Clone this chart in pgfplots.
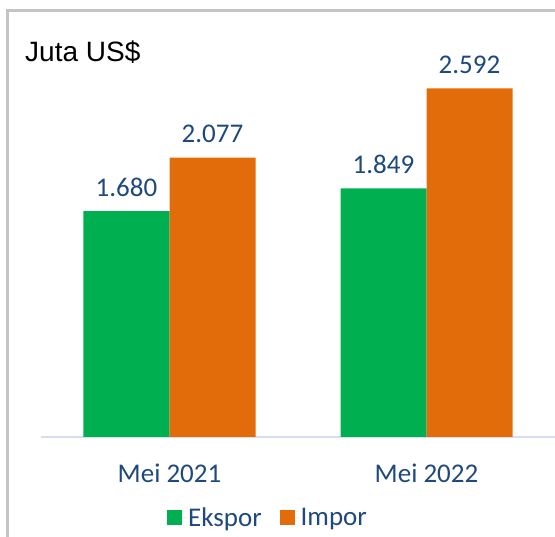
\documentclass[border=0pt]{standalone}
\usepackage{pgfplots}
\pgfplotsset{compat=1.18}
\usepackage{fontspec}
\setmainfont{Carlito}
\newfontfamily\arialfont{Liberation Sans}

\definecolor{ekspor}{HTML}{00B050}
\definecolor{impor}{HTML}{E36C0A}
\definecolor{txtblue}{HTML}{1F497D}
\definecolor{axisgray}{HTML}{D5DEEA}
\definecolor{framegray}{HTML}{C4C4C4}

\begin{document}
\begin{tikzpicture}
\useasboundingbox (0,0) rectangle (555pt,537pt);
% chart frame
\draw[framegray, line width=3pt] (7.5pt,0) -- (7.5pt,526pt) -- (555pt,526pt);
\node[anchor=base west, inner sep=0pt, font=\arialfont\fontsize{28}{32}\selectfont]
  at (25pt,475pt) {Juta US\$};

\begin{axis}[
    at={(41pt,100pt)}, anchor=south west,
    scale only axis,
    width=514pt, height=403.5pt,
    ybar=0pt, bar width=86pt,
    xmin=-0.5, xmax=1.5,
    ymin=0, ymax=3000,
    hide y axis,
    axis x line*=bottom,
    x axis line style={-, draw=axisgray, line width=1.5pt},
    xtick=data,
    xticklabels={Mei 2021, Mei 2022},
    major tick length=0pt,
    xticklabel style={anchor=base, yshift=-46pt, text=txtblue,
        font=\fontsize{27}{32}\selectfont},
    nodes near coords,
    every node near coord/.append style={text=txtblue, inner sep=0pt,
        anchor=base, yshift=15pt, font=\fontsize{27}{32}\selectfont},
    /pgf/number format/.cd, fixed, precision=0, 1000 sep={.}, assume math mode=true,
    /pgfplots/.cd,
    legend columns=2,
    legend style={draw=none, fill=none,
        at={(axis description cs:0.4416,-0.2007)}, anchor=center,
        font=\fontsize{27}{32}\selectfont, text=txtblue,
        /tikz/every even column/.append style={column sep=16pt}},
    legend image code/.code={\fill[#1] (0pt,-7.5pt) rectangle (15pt,7.5pt);
        \path (0pt,0pt) -- (19pt,0pt);},
]
\addplot[fill=ekspor, draw=none] coordinates {(0,1680) (1,1849)};
\addplot[fill=impor, draw=none] coordinates {(0,2077) (1,2592)};
\legend{Ekspor, Impor}
\end{axis}
\end{tikzpicture}
\end{document}
